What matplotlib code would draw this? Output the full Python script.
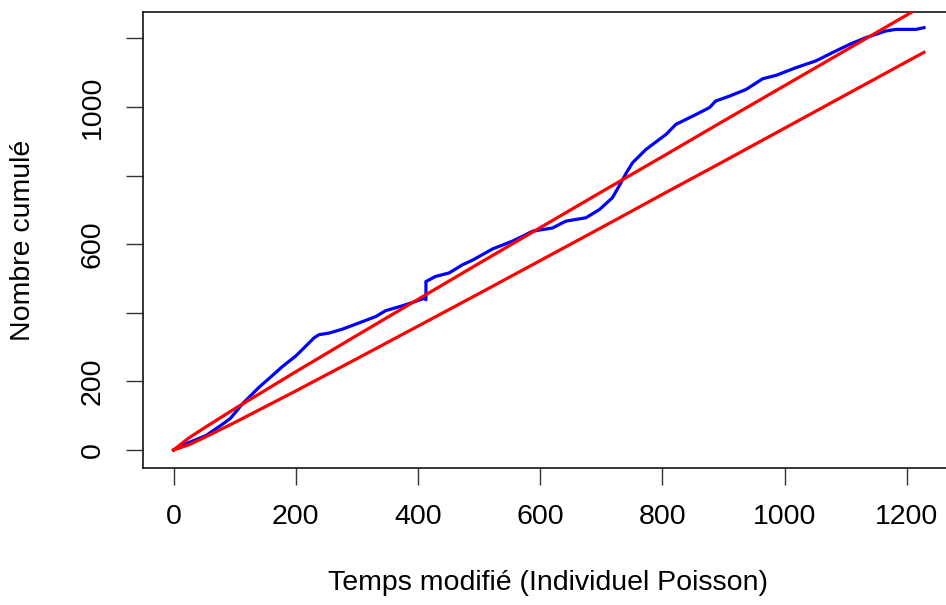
import numpy as np
import matplotlib
matplotlib.use("Agg")
import matplotlib.pyplot as plt

plt.rcParams['font.family'] = ['Liberation Sans', 'DejaVu Sans']

# observed cumulative count (blue)
obs_t = [0, 5, 20, 53, 80, 93, 113, 140, 156, 178, 200, 216, 230, 238, 255, 276,
         309, 331, 347, 374, 396, 410, 413, 413, 429, 451, 473, 489, 522, 555,
         588, 620, 642, 675, 697, 718, 729, 741, 751, 773, 806, 822, 855, 877,
         887, 909, 937, 964, 986, 1018, 1051, 1078, 1106, 1133, 1165, 1182,
         1215, 1228]
obs_n = [0, 5, 18, 42, 75, 92, 135, 183, 208, 243, 274, 302, 327, 336, 341, 352,
         374, 389, 406, 420, 433, 442, 438, 491, 506, 516, 540, 553, 586, 609,
         638, 647, 667, 677, 701, 735, 769, 808, 837, 876, 920, 949, 978, 998,
         1017, 1031, 1051, 1082, 1092, 1114, 1134, 1158, 1182, 1202, 1221, 1226,
         1226, 1231]

# band limits (red)
band_t = [0, 25, 50, 100, 200, 300, 400, 500, 600, 700, 800, 900, 1000, 1100, 1200, 1228]
band_hi = [0, 35, 64, 120, 228, 334, 439, 544, 648, 752, 855, 959, 1062, 1165, 1268, 1297]
band_lo = [0, 15, 36, 80, 172, 266, 361, 456, 552, 648, 745, 841, 938, 1035, 1132, 1159]

xticks = [0, 200, 400, 600, 800, 1000, 1200]
yticks = [0, 200, 400, 600, 800, 1000, 1200]
ylabels = ['0', '200', '', '600', '', '1000', '']

W, H = 946, 605
fig = plt.figure(figsize=(W / 100, H / 100), dpi=100)
ax = fig.add_axes([143 / W, 1 - 468 / H, (968 - 143) / W, (468 - 12) / H])

ax.plot(obs_t, obs_n, color='#0000FF', lw=2.3, zorder=2)
ax.plot(band_t, band_hi, color='#FF0000', lw=2.3, zorder=3)
ax.plot(band_t, band_lo, color='#FF0000', lw=2.3, zorder=3)

ax.set_xlim(-50, 1300)
ax.set_ylim(-52.5, 1276.6)
ax.set_xticks(xticks)
ax.set_yticks(yticks)
ax.set_yticklabels(ylabels, rotation=90, va='center')
ax.tick_params(axis='both', length=12, width=1, labelsize=20.5, color='#333333')
ax.tick_params(axis='x', pad=14)
ax.tick_params(axis='y', pad=15)
for s in ax.spines.values():
    s.set_linewidth(1.1)
    s.set_color('black')

fig.text(548 / W, 1 - 583 / H, 'Temps modifié (Individuel Poisson)', ha='center', va='center', fontsize=20.5)
fig.text(23 / W, 1 - 240 / H, 'Nombre cumulé', ha='center', va='center', rotation=90, fontsize=20.5)

fig.savefig('out.png', dpi=100)
